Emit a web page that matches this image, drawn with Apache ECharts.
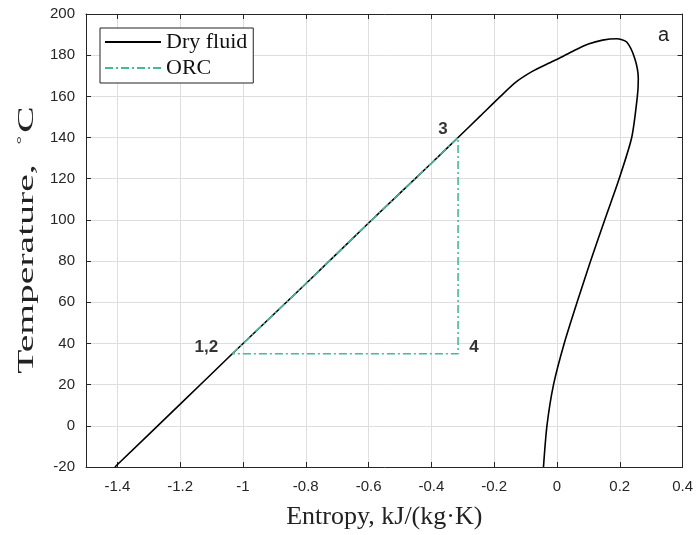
<!DOCTYPE html>
<html>
<head>
<meta charset="utf-8">
<script src="https://cdn.jsdelivr.net/npm/echarts@6/dist/echarts.min.js"></script>
<style>
  html, body { margin: 0; padding: 0; background: #fff; }
  #main { width: 696px; height: 535px; }
</style>
</head>
<body>
<div id="main"></div>
<script>
// ---- saturation dome of the dry fluid (entropy, temperature)
var domeS = [-1.408, -1.2, -1.034, -0.8, -0.6, -0.4, -0.315, -0.244, -0.18, -0.13, -0.08, -0.03, 0.015, 0.06, 0.1, 0.145, 0.19, 0.222, 0.248, 0.259, 0.256, 0.238, 0.198, 0.152, 0.107, 0.064, 0.023, -0.011, -0.032, -0.043];
var domeT = [-20, 10.5, 35, 69, 98.5, 127.5, 140, 150.5, 160, 167, 172, 175.8, 179.1, 182.6, 185.4, 187.3, 188, 186.4, 178.3, 168.6, 160, 140, 120, 100, 80, 60, 40, 20, 0, -20];

// ---- ORC cycle 1,2 -> 3 -> 4 -> 1,2
var orcS = [-1.034, -0.8, -0.6, -0.4, -0.315, -0.315, -1.034];
var orcT = [35, 69, 98.5, 127.5, 140, 35, 35];

// ---- state point labels
var ptNames = ['1,2', '3', '4'];
var ptS = [-1.034, -0.315, -0.315];
var ptT = [35, 140, 35];
var ptOffset = [[-26, -6], [-15, -8], [16, -6]];

var xTicks = [-1.4, -1.2, -1, -0.8, -0.6, -0.4, -0.2, 0, 0.2, 0.4];

var axisColor = '#262626';
var green = '#45b99b';

var myChart = echarts.init(document.getElementById('main'));

function pairs(a, b) {
    var out = [];
    for (var i = 0; i < a.length; i++) out.push([a[i], b[i]]);
    return out;
}

var ptData = [];
for (var i = 0; i < ptNames.length; i++) {
    ptData.push({
        value: [ptS[i], ptT[i]],
        label: { formatter: ptNames[i], offset: ptOffset[i] }
    });
}

var option = {
    animation: false,
    title: {
        text: 'a', right: 22, top: 20,
        textStyle: { fontFamily: 'Liberation Sans', fontSize: 20, fontWeight: 'normal', color: '#222' }
    },
    legend: {
        left: 100, top: 28,
        orient: 'vertical',
        data: ['Dry fluid', 'ORC'],
        itemWidth: 56, itemHeight: 12, itemGap: 4,
        padding: [3, 6, 4, 4],
        borderColor: '#222', borderWidth: 1,
        backgroundColor: '#fff',
        itemStyle: { opacity: 0 },
        textStyle: { fontFamily: 'Liberation Serif', fontSize: 22, color: '#111' }
    },
    graphic: [{
        type: 'text',
        x: 27, y: 240,
        rotation: Math.PI / 2,
        scaleX: 1.65,
        style: {
            text: '{a|Temperature,  }{b|\u00b0}{a|C}',
            textAlign: 'center',
            textVerticalAlign: 'middle',
            rich: {
                a: { fontFamily: 'Liberation Serif', fontSize: 24, fill: '#222' },
                b: { fontFamily: 'Liberation Serif', fontSize: 13, fill: '#222', verticalAlign: 'top', padding: [0, 2, 10, 0] }
            }
        }
    }],
    grid: { left: 86, right: 12, top: 14, bottom: 66, containLabel: false },
    xAxis: [{
        type: 'value', min: -1.5, max: 0.4, position: 'bottom',
        name: 'Entropy, kJ/(kg\u00b7K)', nameLocation: 'middle', nameGap: 37,
        nameTextStyle: { fontFamily: 'Liberation Serif', fontSize: 26, color: '#222' },
        axisLine: { show: true, onZero: false, lineStyle: { color: axisColor, width: 1 } },
        axisTick: { show: true, inside: true, length: 5, customValues: xTicks, lineStyle: { color: axisColor } },
        axisLabel: { customValues: xTicks, color: axisColor, fontFamily: 'Liberation Sans', fontSize: 15, margin: 12 },
        splitLine: { show: true, lineStyle: { color: '#dedede', width: 1 } }
    }, {
        type: 'value', min: -1.5, max: 0.4, position: 'top',
        axisLine: { show: true, onZero: false, lineStyle: { color: axisColor, width: 1 } },
        axisTick: { show: true, inside: true, length: 5, customValues: xTicks, lineStyle: { color: axisColor } },
        axisLabel: { show: false, customValues: xTicks },
        splitLine: { show: false }
    }],
    yAxis: [{
        type: 'value', min: -20, max: 200, interval: 20, position: 'left',
        axisLine: { show: true, onZero: false, lineStyle: { color: axisColor, width: 1 } },
        axisTick: { show: true, inside: true, length: 5, lineStyle: { color: axisColor } },
        axisLabel: { color: axisColor, fontFamily: 'Liberation Sans', fontSize: 15, margin: 11 },
        splitLine: { show: true, lineStyle: { color: '#dedede', width: 1 } }
    }, {
        type: 'value', min: -20, max: 200, interval: 20, position: 'right',
        axisLine: { show: true, onZero: false, lineStyle: { color: axisColor, width: 1 } },
        axisTick: { show: true, inside: true, length: 5, lineStyle: { color: axisColor } },
        axisLabel: { show: false },
        splitLine: { show: false }
    }],
    series: [{
        name: 'Dry fluid',
        type: 'line',
        data: pairs(domeS, domeT),
        smooth: 0.25,
        symbol: 'none',
        color: '#000',
        lineStyle: { color: '#000', width: 1.6 },
        z: 3
    }, {
        name: 'ORC',
        type: 'line',
        data: pairs(orcS, orcT),
        symbol: 'none',
        color: green,
        lineStyle: { color: green, width: 1.6, type: [8, 3, 2, 3] },
        z: 4
    }, {
        name: 'points',
        type: 'scatter',
        data: ptData,
        symbolSize: 0,
        silent: true,
        label: {
            show: true, position: 'inside',
            fontFamily: 'Liberation Sans', fontSize: 17, fontWeight: 'bold', color: '#000'
        },
        z: 5
    }]
};

myChart.setOption(option);
</script>
</body>
</html>
